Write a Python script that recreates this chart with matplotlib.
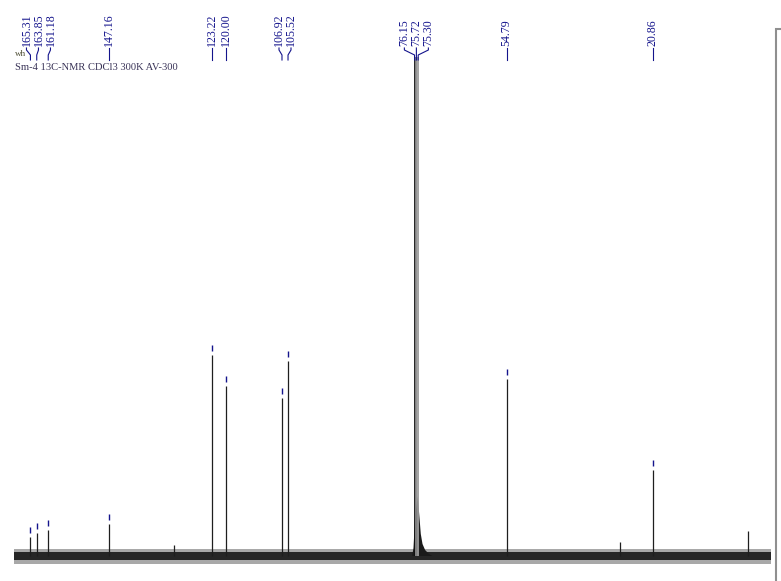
import matplotlib.pyplot as plt
from matplotlib.patches import Rectangle

# peaks (ppm, height in px above baseline)
PEAK_PPM = [165.31, 163.85, 161.18, 147.16, 132.1, 123.22, 120.00, 106.92, 105.52, 54.79, 28.5, 20.86, -1.3]
PEAK_HEIGHT = [19, 23, 26, 32, 11, 201, 170, 158, 195, 177, 14, 86, 25]
SOLVENT_PPM = [76.15, 75.72, 75.30]
SOLVENT_HEIGHT = [499, 499, 499]
SOLVENT_COLOR = ['#111111', '#8a8a8a', '#9c9c9c']
FOOT_PPM = [76.7, 76.4, 76.0, 75.4, 75.0, 74.7, 74.3, 73.7, 72.8, 72.0]
FOOT_HEIGHT = [0, 8, 40, 60, 38, 22, 12, 6, 2, 0]
PICKED = [165.31, 163.85, 161.18, 147.16, 123.22, 120.00, 106.92, 105.52,
          76.15, 75.72, 75.30, 54.79, 20.86]
SPEC_RANGE = [169.1, -6.7]
NOISE_CORE = [-4, 4]
NOISE_OUTER = [-8, 7]
TITLE = 'Sm-4 13C-NMR CDCl3 300K AV-300'
USER = 'wh'

# pixel layout of the screenshot
W, H = 781, 581
PX_PER_PPM = 4.308
X_ZERO = 742.6
BASE_ROW = 556
LABEL_GAP = 12 / PX_PER_PPM
NAVY = '#14148c'


def row(p):
    return BASE_ROW - p


def spread(ppms, gap):
    # push crowded labels apart, keeping each cluster centred on its peaks
    u = sorted(-p for p in ppms)
    groups = [[v] for v in u]
    changed = True
    while changed:
        changed = False
        pos = []
        for g in groups:
            c = sum(g) / len(g)
            pos.append([c + (i - (len(g) - 1) / 2) * gap for i in range(len(g))])
        for i in range(len(groups) - 1):
            if pos[i][-1] + gap > pos[i + 1][0] + 1e-9:
                groups[i] = groups[i] + groups.pop(i + 1)
                changed = True
                break
    out = {}
    for g in groups:
        c = sum(g) / len(g)
        for i, v in enumerate(g):
            out[-v] = -(c + (i - (len(g) - 1) / 2) * gap)
    return out


fig = plt.figure(figsize=(W / 100, H / 100), dpi=100)
ax = fig.add_axes([0, 0, 1, 1])
ax.set_xlim(X_ZERO / PX_PER_PPM, (X_ZERO - W) / PX_PER_PPM)
ax.set_ylim(BASE_ROW - H, BASE_ROW)
ax.axis('off')

# baseline noise band
ax.fill_between(SPEC_RANGE, NOISE_OUTER[0], NOISE_OUTER[1], color='#a8a8a8', lw=0, zorder=1)
ax.fill_between(SPEC_RANGE, NOISE_CORE[0], NOISE_CORE[1], color='#262626', lw=0, zorder=2)

# solvent foot and lines
ax.fill(FOOT_PPM, FOOT_HEIGHT, color='#1a1a1a', lw=0, zorder=3)
for p, h, c in zip(SOLVENT_PPM, SOLVENT_HEIGHT, SOLVENT_COLOR):
    ax.vlines(p, 0, h, color=c, lw=1.3, zorder=3)

# sample peaks
ax.vlines(PEAK_PPM, 0, PEAK_HEIGHT, color='#1e1e1e', lw=0.9, zorder=3)

heights = dict(zip(PEAK_PPM, PEAK_HEIGHT))
for p in PICKED:
    if p in heights:
        h = heights[p]
        ax.vlines(p, h + 4, h + 10, color=NAVY, lw=1.0, zorder=4)

# peak labels with connectors
label_x = spread(PICKED, LABEL_GAP)
for p in PICKED:
    lx = label_x[p]
    ax.plot([lx, lx, p, p], [row(48), row(50), row(55), row(60)], color=NAVY, lw=0.8, zorder=5)
    ax.text(lx, row(46.5), f'{p:.2f}', rotation=90, ha='center', va='bottom',
            fontsize=8.6, family='Liberation Serif', color=NAVY)

fig.text(15 / W, 1 - 54 / H, USER, fontsize=6.5, family='Liberation Serif',
         color='#4a4a30', ha='left', va='center')
fig.text(15 / W, 1 - 67 / H, TITLE, fontsize=7.6, family='Liberation Serif',
         color='#3a3458', ha='left', va='center')

# cut-off parameter panel on the right
fig.patches.append(Rectangle((775.5 / W, -0.05), 0.2, 1 - 29.5 / H + 0.05,
                             transform=fig.transFigure, facecolor='white',
                             edgecolor='#8f8f8f', lw=1.5))

fig.savefig('out.png', dpi=100)
